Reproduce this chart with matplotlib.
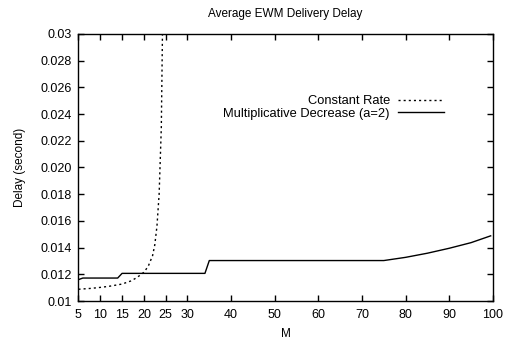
import matplotlib
matplotlib.use('Agg')
from matplotlib import pyplot as plt
import numpy as np

plt.rcParams['font.family'] = ['Liberation Sans', 'DejaVu Sans']

# constant rate series
m_const = [5, 8, 10, 12, 15, 17, 18, 19, 20, 21, 22, 22.5, 23, 23.5, 24, 24.3]
d_const = [0.01088, 0.01095, 0.01102, 0.01110, 0.01127, 0.01150, 0.01168, 0.01190,
           0.01215, 0.01260, 0.01340, 0.01420, 0.01560, 0.01800, 0.02300, 0.03100]

# multiplicative decrease (a=2)
m_mult = [5, 6, 14, 15, 34, 35, 75, 80, 85, 90, 95, 99.5]
d_mult = [0.01160, 0.01172, 0.01172, 0.01207, 0.01207, 0.01303, 0.01303,
          0.01327, 0.01358, 0.01395, 0.01437, 0.01488]

xticks = [5, 10, 15, 20, 25, 30, 40, 50, 60, 70, 80, 90, 100]
yticks = np.arange(0.010, 0.0301, 0.002)

fig = plt.figure(figsize=(5.06, 3.46), dpi=100)
ax = fig.add_axes([0.155, 0.130, 0.819, 0.772])

ax.plot(m_const, d_const, color='black', lw=1, linestyle=(0, (1.5, 2.2)), label='Constant Rate')
ax.plot(m_mult, d_mult, color='black', lw=1, label='Multiplicative Decrease (a=2)')

ax.set_xlim(5, 100)
ax.set_ylim(0.01, 0.03)
ax.set_xticks(xticks)
ax.set_yticks(yticks)
ax.set_yticklabels(['0.01'] + ['{:.3f}'.format(v) for v in yticks[1:-1]] + ['0.03'])
ax.tick_params(direction='in', top=True, right=True, length=4, width=1, labelsize=9)
ax.tick_params(axis='x', pad=6)
ax.tick_params(axis='y', pad=5)
for s in ax.spines.values():
    s.set_linewidth(1)

ax.set_xlabel('M', fontsize=8.5, labelpad=5)
ax.set_ylabel('Delay (second)', fontsize=8.5, labelpad=10)
ax.set_title('Average EWM Delivery Delay', fontsize=8.5, pad=12)

ax.legend(loc='upper right', bbox_to_anchor=(0.895, 0.79), frameon=False,
          markerfirst=False, handlelength=3.6, labelspacing=0.05,
          handletextpad=0.6, fontsize=9.3, borderaxespad=0)

fig.savefig('out.png', dpi=100)
